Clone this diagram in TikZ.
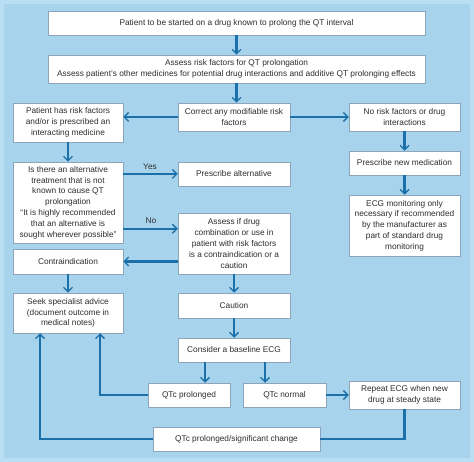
\documentclass[tikz,border=0pt]{standalone}
\usepackage{fontspec}
\setmainfont{Liberation Sans}
\usetikzlibrary{arrows.meta}

\definecolor{bgouter}{RGB}{184,222,244}
\definecolor{bginner}{RGB}{168,211,237}
\definecolor{arrowblue}{RGB}{27,112,170}
\definecolor{boxline}{RGB}{140,165,185}
\definecolor{txt}{RGB}{45,45,45}

\begin{document}
\begin{tikzpicture}[x=1pt, y=-1pt,
  box/.style={draw=boxline, line width=0.5pt, fill=white, align=center,
    text=txt, inner sep=1pt, font=\fontsize{8.3}{10.8}\selectfont},
  arr/.style={draw=arrowblue, line width=2.2pt,
    -{Straight Barb[length=4.5pt, width=9pt, line width=1.4pt]}},
  link/.style={draw=arrowblue, line width=2.2pt},
  lbl/.style={text=txt, font=\fontsize{8.3}{9}\selectfont}]

% background
\fill[bgouter] (0,0) rectangle (474,462);
\fill[bginner] (4,4) rectangle (470,458);

% boxes
\node[box, minimum width=377pt, minimum height=24pt] (start) at (236.5,23)
  {Patient to be started on a drug known to prolong the QT interval};
\node[box, minimum width=377pt, minimum height=28pt] (assessrisk) at (236.5,69)
  {Assess risk factors for QT prolongation\\Assess patient's other medicines for potential drug interactions and additive QT prolonging effects};

\node[box, minimum width=110pt, minimum height=39pt] (risk) at (68,122.5)
  {Patient has risk factors\\and/or is prescribed an\\interacting medicine};
\node[box, minimum width=112pt, minimum height=28pt] (correct) at (234,117)
  {Correct any modifiable risk\\factors};
\node[box, minimum width=111pt, minimum height=28pt] (norisk) at (404.5,117)
  {No risk factors or drug\\interactions};

\node[box, minimum width=111pt, minimum height=24pt] (newmed) at (404.5,163)
  {Prescribe new medication};
\node[box, minimum width=111pt, minimum height=61pt] (ecgmon) at (404.5,225.5)
  {ECG monitoring only\\necessary if recommended\\by the manufacturer as\\part of standard drug\\monitoring};

\node[box, minimum width=110pt, minimum height=81pt] (alt) at (68,202.5)
  {Is there an alternative\\treatment that is not\\known to cause QT\\prolongation\\``It is highly recommended\\that an alternative is\\sought wherever possible''};
\node[box, minimum width=112pt, minimum height=24pt] (prescalt) at (234,174)
  {Prescribe alternative};
\node[box, minimum width=112pt, minimum height=61pt] (assess) at (234,243.5)
  {Assess if drug\\combination or use in\\patient with risk factors\\is a contraindication or a\\caution};

\node[box, minimum width=110pt, minimum height=25pt] (contra) at (68,261.5)
  {Contraindication};
\node[box, minimum width=110pt, minimum height=40pt] (seek) at (68,313)
  {Seek specialist advice\\(document outcome in\\medical notes)};
\node[box, minimum width=112pt, minimum height=25pt] (caution) at (234,305.5)
  {Caution};
\node[box, minimum width=112pt, minimum height=24pt] (baseline) at (234,350)
  {Consider a baseline ECG};

\node[box, minimum width=82pt, minimum height=24pt] (qtcprol) at (189,395)
  {QTc prolonged};
\node[box, minimum width=83pt, minimum height=24pt] (qtcnorm) at (284.5,395)
  {QTc normal};
\node[box, minimum width=111pt, minimum height=28pt] (repeat) at (404.5,395)
  {Repeat ECG when new\\drug at steady state};
\node[box, minimum width=167pt, minimum height=24pt] (sigchange) at (236.5,439)
  {QTc prolonged/significant change};

% straight down arrows
\foreach \a/\b in {start/assessrisk, assessrisk/correct, risk/alt, contra/seek,
                   norisk/newmed, newmed/ecgmon, assess/caution, caution/baseline}{
       \draw[arr] (\a.south) -- (\a.south |- \b.north);
}

% sideways arrows
\draw[arr] (correct.west) -- (risk.east |- correct.west);
\draw[arr] (correct.east) -- (norisk.west);
\draw[arr] (alt.east |- prescalt.west) -- (prescalt.west);
\node[lbl] (yes) at (150,167) {Yes};
\coordinate (noy) at ([yshift=-16pt]assess.north west);
\draw[arr] (alt.east |- noy) -- (noy);
\node[lbl] (no) at (151,221) {No};
\draw[arr] (assess.west |- contra.east) -- (contra.east);

% ECG results
\draw[arr] ([xshift=-29pt]baseline.south) -- ([xshift=-29pt]baseline.south |- qtcprol.north);
\draw[arr] ([xshift=31pt]baseline.south) -- ([xshift=31pt]baseline.south |- qtcnorm.north);
\draw[arr] (qtcnorm.east) -- (repeat.west);
\draw[arr] (qtcprol.west) -| ([xshift=32pt]seek.south);
\draw[arr] (sigchange.west) -| ([xshift=-28pt]seek.south);
\draw[link] (repeat.south) |- (sigchange.east);

\end{tikzpicture}
\end{document}
